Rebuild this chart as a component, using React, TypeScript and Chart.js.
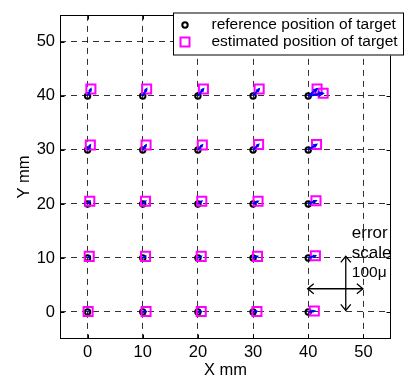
import React, { useEffect, useRef } from 'react';
import { Chart, registerables } from 'chart.js';

Chart.register(...registerables);

const FONT = "'Liberation Sans', Arial, Helvetica, sans-serif";

// reference grid of targets (mm)
const gridX = [0, 10, 20, 30, 40];
const gridY = [0, 10, 20, 30, 40];

// estimated positions (error magnified), each tied to a reference target
const estRefX = [0, 10, 20, 30, 40, 0, 10, 20, 30, 40, 0, 10, 20, 30, 40, 0, 10, 20, 30, 40, 0, 10, 20, 30, 40, 40];
const estRefY = [0, 0, 0, 0, 0, 10, 10, 10, 10, 10, 20, 20, 20, 20, 20, 30, 30, 30, 30, 30, 40, 40, 40, 40, 40, 40];
const estX = [0.1, 10.6, 20.6, 30.7, 41.1, 0.3, 10.5, 20.6, 30.8, 41.3, 0.4, 10.5, 20.7, 30.9, 41.4, 0.5, 10.6, 20.8, 31.0, 41.5, 0.6, 10.7, 21.0, 31.1, 41.6, 42.7];
const estY = [0.1, 0.1, 0.1, 0.1, 0.2, 10.3, 10.3, 10.3, 10.3, 10.4, 20.5, 20.5, 20.5, 20.5, 20.6, 30.9, 30.9, 30.9, 31.0, 31.0, 41.3, 41.3, 41.3, 41.3, 41.3, 40.5];

// axes
const xRange = [-5, 55];
const yRange = [-5, 55];
const xTicks = [0, 10, 20, 30, 40, 50];
const yTicks = [0, 10, 20, 30, 40, 50];
const xTitle = 'X mm';
const yTitle = 'Y mm';

// error scale bar (100 µm shown as 10 mm)
const scaleHX = [39.9, 49.9];
const scaleHY = [4.3, 4.3];
const scaleVX = [46.8, 46.8];
const scaleVY = [0.3, 10.3];
const noteLines = ['error', 'scale', '100μ m'];
const noteX = [47.9, 47.9, 47.9];
const noteY = [14.6, 10.9, 7.3];
const noteSize = [17, 17, 15.5];

const legendLabels = ['reference position of target', 'estimated position of target'];

const MAGENTA = '#ff00ff';
const BLUE = '#0000ff';

function drawOpenHead(ctx: CanvasRenderingContext2D, tx: number, ty: number, fx: number, fy: number, len: number, half: number) {
  const dx = tx - fx;
  const dy = ty - fy;
  const d = Math.hypot(dx, dy) || 1;
  const ux = dx / d;
  const uy = dy / d;
  const bx = tx - ux * len;
  const by = ty - uy * len;
  ctx.beginPath();
  ctx.moveTo(bx - uy * half, by + ux * half);
  ctx.lineTo(tx, ty);
  ctx.lineTo(bx + uy * half, by - ux * half);
  ctx.stroke();
}

const matlabPlugin = {
  id: 'matlabDecor',
  afterDatasetsDraw(chart: any) {
    const { ctx, chartArea: a, scales } = chart;
    const xs = scales.x;
    const ys = scales.y;

    // quiver heads
    ctx.save();
    ctx.strokeStyle = BLUE;
    ctx.lineWidth = 1.5;
    for (let i = 0; i < estX.length; i++) {
      const fx = xs.getPixelForValue(estRefX[i]);
      const fy = ys.getPixelForValue(estRefY[i]);
      const tx = xs.getPixelForValue(estX[i]);
      const ty = ys.getPixelForValue(estY[i]);
      const L = Math.hypot(tx - fx, ty - fy);
      drawOpenHead(ctx, tx, ty, fx, fy, L * 0.33, L * 0.15);
    }
    ctx.restore();

    // scale-bar arrow heads
    ctx.save();
    ctx.strokeStyle = '#000';
    ctx.lineWidth = 1.3;
    const h0 = [xs.getPixelForValue(scaleHX[0]), ys.getPixelForValue(scaleHY[0])];
    const h1 = [xs.getPixelForValue(scaleHX[1]), ys.getPixelForValue(scaleHY[1])];
    const v0 = [xs.getPixelForValue(scaleVX[0]), ys.getPixelForValue(scaleVY[0])];
    const v1 = [xs.getPixelForValue(scaleVX[1]), ys.getPixelForValue(scaleVY[1])];
    drawOpenHead(ctx, h0[0], h0[1], h1[0], h1[1], 6, 5);
    drawOpenHead(ctx, h1[0], h1[1], h0[0], h0[1], 6, 5);
    drawOpenHead(ctx, v0[0], v0[1], v1[0], v1[1], 6, 5);
    drawOpenHead(ctx, v1[0], v1[1], v0[0], v0[1], 6, 5);
    ctx.restore();

    // scale-bar text, clipped to axes
    ctx.save();
    ctx.beginPath();
    ctx.rect(a.left, a.top, a.right - a.left, a.bottom - a.top);
    ctx.clip();
    ctx.fillStyle = '#000';
    ctx.textAlign = 'left';
    ctx.textBaseline = 'middle';
    noteLines.forEach((t, i) => {
      ctx.font = `${noteSize[i]}px ${FONT}`;
      ctx.fillText(t, xs.getPixelForValue(noteX[i]), ys.getPixelForValue(noteY[i]));
    });
    ctx.restore();

    // axes box with inward ticks
    ctx.save();
    ctx.strokeStyle = '#000';
    ctx.lineWidth = 1;
    const L = Math.round(a.left) + 0.5;
    const R = Math.round(a.right) - 0.5;
    const T = Math.round(a.top) + 0.5;
    const B = Math.round(a.bottom) - 0.5;
    ctx.strokeRect(L, T, R - L, B - T);
    ctx.beginPath();
    xTicks.forEach((v) => {
      const p = Math.round(xs.getPixelForValue(v)) + 0.5;
      ctx.moveTo(p, B); ctx.lineTo(p, B - 4);
      ctx.moveTo(p, T); ctx.lineTo(p, T + 4);
    });
    yTicks.forEach((v) => {
      const p = Math.round(ys.getPixelForValue(v)) + 0.5;
      ctx.moveTo(L, p); ctx.lineTo(L + 4, p);
      ctx.moveTo(R, p); ctx.lineTo(R - 4, p);
    });
    ctx.stroke();
    ctx.restore();
  },
  afterDraw(chart: any) {
    const { ctx } = chart;
    // legend box
    const bx = 173, by = 12.5, bw = 231, bh = 43;
    ctx.save();
    ctx.fillStyle = '#fff';
    ctx.fillRect(bx, by, bw, bh);
    ctx.strokeStyle = '#000';
    ctx.lineWidth = 1;
    ctx.strokeRect(bx + 0.5, by + 0.5, bw - 1, bh - 1);
    const rowY = [25, 42];
    ctx.strokeStyle = '#000';
    ctx.lineWidth = 2;
    ctx.beginPath();
    ctx.arc(185, rowY[0], 2.7, 0, Math.PI * 2);
    ctx.stroke();
    ctx.strokeStyle = MAGENTA;
    ctx.strokeRect(185 - 4.5, rowY[1] - 4.5, 9, 9);
    ctx.fillStyle = '#000';
    ctx.font = `15.5px ${FONT}`;
    ctx.textAlign = 'left';
    ctx.textBaseline = 'middle';
    legendLabels.forEach((t, i) => ctx.fillText(t, 211.5, rowY[i]));
    ctx.restore();
  },
};

export default function App() {
  const ref = useRef<HTMLCanvasElement | null>(null);

  useEffect(() => {
    if (!ref.current) return;
    const refPts: { x: number; y: number }[] = [];
    gridY.forEach((yv) => gridX.forEach((xv) => refPts.push({ x: xv, y: yv })));
    const estPts = estX.map((xv, i) => ({ x: xv, y: estY[i] }));
    const quiverPts: { x: number; y: number }[] = [];
    estX.forEach((xv, i) => {
      quiverPts.push({ x: estRefX[i], y: estRefY[i] });
      quiverPts.push({ x: xv, y: estY[i] });
      quiverPts.push({ x: NaN, y: NaN });
    });
    const hPts = scaleHX.map((v, i) => ({ x: v, y: scaleHY[i] }));
    const vPts = scaleVX.map((v, i) => ({ x: v, y: scaleVY[i] }));

    const tickFont = { family: FONT, size: 16.5 };

    const chart = new Chart(ref.current, {
      type: 'scatter',
      data: {
        datasets: [
          {
            label: legendLabels[0],
            data: refPts,
            pointStyle: 'circle',
            pointRadius: 2.7,
            pointBorderWidth: 2,
            pointBorderColor: '#000',
            pointBackgroundColor: 'rgba(0,0,0,0)',
            borderColor: '#000',
            backgroundColor: 'rgba(0,0,0,0)',
            showLine: false,
            order: 3,
          },
          {
            label: legendLabels[1],
            data: estPts,
            pointStyle: 'rect',
            pointRadius: 6.4,
            pointBorderWidth: 2,
            pointBorderColor: MAGENTA,
            pointBackgroundColor: 'rgba(0,0,0,0)',
            borderColor: MAGENTA,
            backgroundColor: 'rgba(0,0,0,0)',
            showLine: false,
            order: 2,
          },
          {
            label: 'error vectors',
            data: quiverPts,
            showLine: true,
            spanGaps: false,
            borderColor: BLUE,
            borderWidth: 2,
            pointRadius: 0,
            order: 1,
          },
          {
            label: 'scale horizontal',
            data: hPts,
            showLine: true,
            borderColor: '#000',
            borderWidth: 1.3,
            pointRadius: 0,
            order: 0,
          },
          {
            label: 'scale vertical',
            data: vPts,
            showLine: true,
            borderColor: '#000',
            borderWidth: 1.3,
            pointRadius: 0,
            order: 0,
          },
        ],
      },
      options: {
        animation: false,
        responsive: false,
        devicePixelRatio: 1,
        layout: { padding: { top: 8, right: 20, left: 0, bottom: 0 } },
        plugins: {
          legend: { display: false },
          tooltip: { enabled: false },
        },
        scales: {
          x: {
            type: 'linear',
            min: xRange[0],
            max: xRange[1],
            afterBuildTicks: (s: any) => {
              s.ticks = xTicks.map((v) => ({ value: v }));
            },
            afterFit: (s: any) => {
              s.height = 41;
            },
            grid: { color: 'rgba(0,0,0,0.8)', lineWidth: 1, drawTicks: false },
            border: { display: false, dash: [6, 5] },
            ticks: { color: '#000', font: tickFont, padding: 4, maxRotation: 0, autoSkip: false },
            title: { display: true, text: xTitle, color: '#000', font: tickFont, padding: { top: 0, bottom: 0 } },
          },
          y: {
            type: 'linear',
            min: yRange[0],
            max: yRange[1],
            afterBuildTicks: (s: any) => {
              s.ticks = yTicks.map((v) => ({ value: v }));
            },
            afterFit: (s: any) => {
              s.width = 60;
            },
            grid: { color: 'rgba(0,0,0,0.8)', lineWidth: 1, drawTicks: false },
            border: { display: false, dash: [6, 5] },
            ticks: { color: '#000', font: tickFont, padding: 5, autoSkip: false },
            title: { display: true, text: yTitle, color: '#000', font: tickFont, padding: { top: 15, bottom: 0 } },
          },
        },
      } as any,
      plugins: [matlabPlugin],
    });
    return () => chart.destroy();
  }, []);

  return (
    <div style={{ position: 'absolute', left: 0, top: 0, width: 411, height: 380, background: '#fff' }}>
      <canvas ref={ref} width={411} height={380} style={{ display: 'block' }} />
    </div>
  );
}
